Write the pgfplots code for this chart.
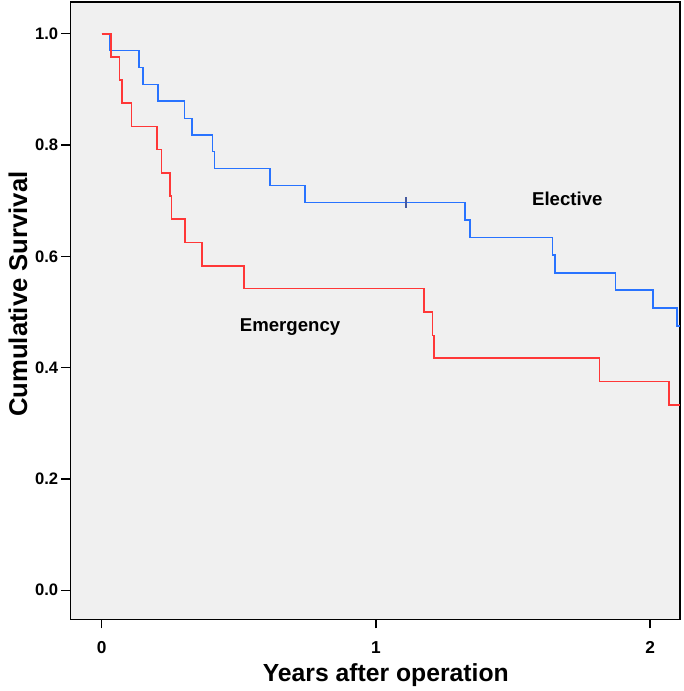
\documentclass[border=0pt]{standalone}
\usepackage{fontspec}
\setmainfont{Liberation Sans}
\usepackage{pgfplots}
\pgfplotsset{compat=1.18}

\definecolor{elect}{RGB}{40,115,255}
\definecolor{emerg}{RGB}{255,55,55}
\definecolor{censor}{RGB}{70,90,160}
\definecolor{bg}{RGB}{240,240,240}

\begin{document}
\begin{tikzpicture}
  \begin{axis}[
    scale only axis,
    width=458.25pt, height=464.25pt,
    xmin=-0.1127, xmax=2.109,
    ymin=-0.052, ymax=1.057,
    xtick={0,1,2},
    ytick={0,0.2,0.4,0.6,0.8,1.0},
    /pgf/number format/assume math mode=true,
    yticklabel style={font=\fontsize{12.5}{14}\selectfont\bfseries, xshift=1pt,
      /pgf/number format/.cd, fixed, fixed zerofill, precision=1},
    xticklabel style={font=\fontsize{13}{15}\selectfont\bfseries, yshift=-6pt},
    tick align=outside,
    major tick length=7pt,
    tick style={black, line width=1pt},
    xtick pos=bottom, ytick pos=left,
    axis line style={black, line width=1pt},
    axis background/.style={fill=bg},
    xlabel={Years after operation},
    ylabel={Cumulative Survival},
    xlabel style={font=\fontsize{18.6}{20}\selectfont\bfseries,
      at={(axis description cs:0.517,-0.0905)}, anchor=center},
    ylabel style={font=\fontsize{19.3}{21}\selectfont\bfseries,
      at={(axis description cs:-0.0867,0.5267)}, anchor=center, rotate=0},
    clip=false,
  ]

  % Elective
  \addplot[const plot, color=elect, line width=1.2pt] coordinates {
    (0,1) (0.029,0.970) (0.135,0.939) (0.150,0.909) (0.205,0.879)
    (0.302,0.848) (0.330,0.818) (0.404,0.788) (0.412,0.758) (0.613,0.727)
    (0.742,0.697) (1.324,0.665) (1.344,0.634) (1.644,0.602) (1.653,0.570)
    (1.874,0.539) (2.011,0.507) (2.098,0.475) (2.109,0.475)
  };
  % censored
  \addplot[only marks, mark=|, mark size=4pt, color=censor, line width=1pt] coordinates {
    (1.11,0.697)
  };

  % Emergency
  \addplot[const plot, color=emerg, line width=1.2pt] coordinates {
    (0,1) (0.035,0.958) (0.065,0.917) (0.073,0.875) (0.109,0.833)
    (0.2025,0.792) (0.218,0.750) (0.250,0.708) (0.255,0.667) (0.304,0.625)
    (0.366,0.583) (0.519,0.542) (1.175,0.500) (1.207,0.458) (1.211,0.417)
    (1.816,0.375) (2.068,0.333) (2.109,0.333)
  };

  \node[font=\fontsize{14}{16}\selectfont\bfseries] at (axis cs:1.698,0.703) {Elective};
  \node[font=\fontsize{14}{16}\selectfont\bfseries] at (axis cs:0.687,0.473) {Emergency};
  \end{axis}
  \path[use as bounding box] (-53.25pt,-52.5pt) rectangle (460.5pt,465.75pt);
\end{tikzpicture}
\end{document}
